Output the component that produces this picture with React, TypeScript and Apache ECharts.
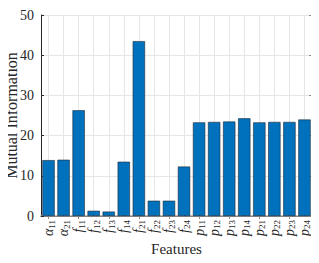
import React, { useEffect, useRef } from "react";
import * as echarts from "echarts";

const symbols = ["α", "α", "f", "f", "f", "f", "f", "f", "f", "f", "p", "p", "p", "p", "p", "p", "p", "p"];
const subscripts = ["11", "21", "11", "12", "13", "14", "21", "22", "23", "24", "11", "12", "13", "14", "21", "22", "23", "24"];
const categories = symbols.map((s, i) => s + subscripts[i]);
const values = [13.9, 14.0, 26.3, 1.3, 1.1, 13.5, 43.5, 3.8, 3.8, 12.3, 23.3, 23.4, 23.5, 24.3, 23.3, 23.4, 23.4, 24.0];
const yTicks = [0, 10, 20, 30, 40, 50];

const FONT = "'Liberation Serif', 'DejaVu Serif', serif";

export default function App() {
  const ref = useRef<HTMLDivElement>(null);
  useEffect(() => {
    if (!ref.current) return;
    const chart = echarts.init(ref.current, undefined, { renderer: "svg" });
    const labelFmt = (v: string) => {
      const i = categories.indexOf(v);
      return `{m|${symbols[i]}}{s|${subscripts[i]}}`;
    };
    chart.setOption({
      animation: false,
      backgroundColor: "#ffffff",
      grid: { left: 41, right: 7, top: 15, bottom: 47, containLabel: false, outerBoundsMode: "none" },
      xAxis: [
        {
          type: "category",
          data: categories,
          name: "Features",
          nameLocation: "middle",
          nameGap: 25,
          nameMoveOverlap: false,
          nameTextStyle: { fontFamily: FONT, fontSize: 15, color: "#262626", lineHeight: 15 },
          axisLine: { lineStyle: { color: "#262626", width: 1 } },
          axisTick: { show: true, inside: true, alignWithLabel: true, length: 3, lineStyle: { color: "#262626" } },
          splitLine: { show: true, alignWithLabel: true, lineStyle: { color: "#e6e6e6", width: 1 } },
          axisLabel: {
            rotate: 90,
            margin: 4,
            interval: 0,
            formatter: labelFmt,
            rich: {
              m: { fontFamily: FONT, fontStyle: "italic", fontSize: 14, color: "#262626", lineHeight: 15, verticalAlign: "middle" },
              s: { fontFamily: FONT, fontSize: 9, color: "#262626", lineHeight: 15, verticalAlign: "bottom" },
            },
          },
        },
        {
          type: "category",
          data: categories,
          position: "top",
          axisLine: { lineStyle: { color: "#a6a6a6", width: 1.5 } },
          axisTick: { show: true, inside: true, alignWithLabel: true, length: 3, lineStyle: { color: "#8c8c8c" } },
          axisLabel: { show: false },
          splitLine: { show: false },
        },
      ],
      yAxis: [
        {
          type: "value",
          min: 0,
          max: 50,
          interval: 10,
          name: "Mutual Information",
          nameLocation: "middle",
          nameGap: 22,
          nameMoveOverlap: false,
          nameTextStyle: { fontFamily: FONT, fontSize: 16, color: "#262626" },
          axisLine: { show: true, lineStyle: { color: "#262626", width: 1 } },
          axisTick: { show: true, inside: true, length: 3, lineStyle: { color: "#262626" } },
          splitLine: { show: true, lineStyle: { color: "#e6e6e6", width: 1 } },
          axisLabel: {
            margin: 7,
            fontFamily: FONT,
            fontSize: 14,
            color: "#262626",
            formatter: (v: number) => (yTicks.includes(v) ? String(v) : ""),
          },
        },
        {
          type: "value",
          min: 0,
          max: 50,
          interval: 10,
          position: "right",
          axisLine: { show: true, lineStyle: { color: "#8c8c8c", width: 1.5 } },
          axisTick: { show: true, inside: true, length: 3, lineStyle: { color: "#8c8c8c" } },
          axisLabel: { show: false },
          splitLine: { show: false },
        },
      ],
      series: [
        {
          type: "bar",
          data: values,
          barWidth: "82%",
          itemStyle: { color: "#0072BD", borderColor: "#1f2a36", borderWidth: 0.6 },
        },
      ],
    });
    return () => chart.dispose();
  }, []);
  return <div ref={ref} style={{ width: 319, height: 263, margin: -8 }} />;
}
